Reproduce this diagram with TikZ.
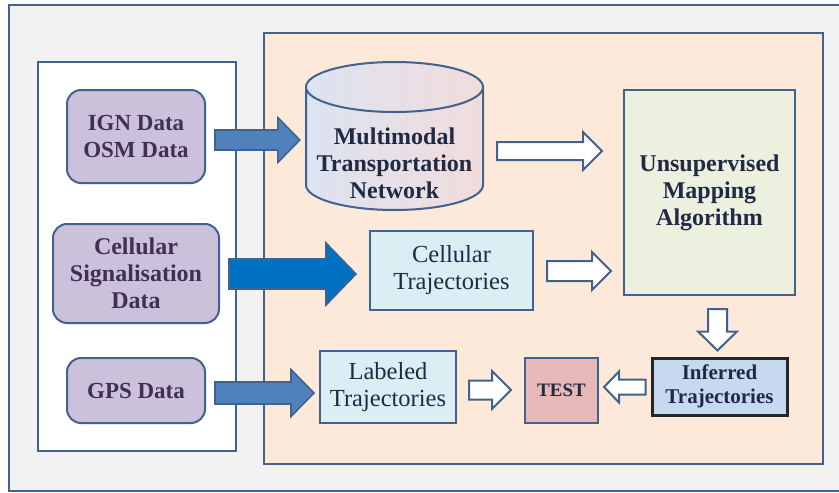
\documentclass[tikz,border=0pt]{standalone}
\usepackage{fontspec}
\setmainfont{Liberation Serif}
\usepackage{tikz}
\usetikzlibrary{calc}

\definecolor{framecol}{HTML}{41628C}
\definecolor{bggrey}{HTML}{F2F2F2}
\definecolor{peach}{HTML}{FDE9D9}
\definecolor{purplefill}{HTML}{CCC1DA}
\definecolor{purpletext}{HTML}{3F3151}
\definecolor{navytext}{HTML}{1F2A44}
\definecolor{trajfill}{HTML}{DBEEF4}
\definecolor{umafill}{HTML}{EBF1DE}
\definecolor{inffill}{HTML}{C6D9F1}
\definecolor{testfill}{HTML}{E6B9B8}
\definecolor{arrowblue}{HTML}{4F81BD}
\definecolor{cellblue}{HTML}{0070C0}
\definecolor{cylblue}{HTML}{DCE3F1}
\definecolor{cylpink}{HTML}{F2DCDC}

\tikzset{
  databox/.style={draw=framecol, line width=2pt, rounded corners=14pt, fill=purplefill,
    text=purpletext, align=center, inner sep=0pt, font=\fontsize{23}{27}\selectfont\bfseries},
  trajbox/.style={draw=framecol, line width=2pt, fill=trajfill, text=navytext,
    align=center, inner sep=0pt, font=\fontsize{24.5}{27}\selectfont},
  boldbox/.style={draw=framecol, line width=2pt, text=navytext, align=center,
    inner sep=0pt, font=\fontsize{24}{27}\selectfont\bfseries},
  blockarrow/.style n args={3}{to path={
    ($(\tikztotarget)!#3!(\tikztostart)$) coordinate (ba-head)
    ($(\tikztostart)!#1!90:(\tikztotarget)$) -- ($(ba-head)!#1!90:(\tikztotarget)$)
    -- ($(ba-head)!#2!90:(\tikztotarget)$) -- (\tikztotarget)
    -- ($(ba-head)!#2!-90:(\tikztotarget)$) -- ($(ba-head)!#1!-90:(\tikztotarget)$)
    -- ($(\tikztostart)!#1!-90:(\tikztotarget)$) -- cycle}},
  bluearrow/.style={draw=framecol, line width=1.6pt, fill=arrowblue},
  cellarrow/.style={draw=framecol, line width=1.6pt, fill=cellblue},
  hollowarrow/.style={draw=framecol, line width=2pt, fill=white},
}

\begin{document}
\begin{tikzpicture}[x=1pt,y=-1pt]
  \useasboundingbox (0,0) rectangle (839,493);

  % frames
  \draw[framecol, line width=2pt, fill=bggrey] (9,5) rectangle (860,491);
  \draw[framecol, line width=2pt, fill=white] (38,62) rectangle (236,451);
  \draw[framecol, line width=2pt, fill=peach] (264,33) rectangle (823,464);

  % data sources
  \node[databox, minimum width=138, minimum height=93] (ign) at (136,136.5) {IGN Data\\OSM Data};
  \node[databox, minimum width=166, minimum height=99, font=\fontsize{24}{27}\selectfont\bfseries] (cell) at (136,273.5) {Cellular\\Signalisation\\Data};
  \node[databox, minimum width=138, minimum height=65] (gps) at (136,390.5) {GPS Data};

  % network cylinder
  \path[left color=cylblue, right color=cylpink]
    (306,87) -- (306,185) arc[start angle=180, end angle=0, x radius=88.5, y radius=25]
    -- (483,87) arc[start angle=0, end angle=-180, x radius=88.5, y radius=25] -- cycle;
  \draw[framecol, line width=2pt]
    (306,87) -- (306,185) arc[start angle=180, end angle=0, x radius=88.5, y radius=25]
    -- (483,87) (394.5,87) ellipse[x radius=88.5, y radius=25];
  \node[text=navytext, align=center, inner sep=0pt, minimum width=177, minimum height=98,
    font=\fontsize{24}{27}\selectfont\bfseries] (cyl) at (394.5,163)
    {Multimodal\\Transportation\\Network};

  % processing
  \node[boldbox, fill=umafill, minimum width=171, minimum height=205] (uma) at (709.5,192.5)
    {Unsupervised\\Mapping\\Algorithm};
  \node[trajbox, minimum width=163, minimum height=79] (ctraj) at (451.5,270.5) {Cellular\\Trajectories};
  \node[trajbox, minimum width=136, minimum height=72] (ltraj) at (388,387) {Labeled\\Trajectories};
  \node[boldbox, fill=testfill, minimum width=73, minimum height=65,
    font=\fontsize{19}{22}\selectfont\bfseries] (test) at (561.5,390.5) {TEST};
  \node[boldbox, draw=black!85, line width=3pt, fill=inffill, minimum width=135, minimum height=57,
    font=\fontsize{21}{24}\selectfont\bfseries] (inf) at (719.5,386.5) {Inferred\\Trajectories};

  % arrows
  \draw[bluearrow, blockarrow={10pt}{22.5pt}{22pt}] ($(ign.east)+(9,3.5)$) to ($(ign.east -| cyl.west)+(-6,3.5)$);
  \draw[cellarrow, blockarrow={15pt}{31pt}{30pt}] ($(cell.east)+(9,0.5)$) to ($(ctraj.west |- cell.east)+(-13,0.5)$);
  \draw[bluearrow, blockarrow={11pt}{23.5pt}{23pt}] ($(gps.east)+(9,2.5)$) to ($(ltraj.west |- gps.east)+(-5,2.5)$);
  \draw[hollowarrow, blockarrow={9pt}{19pt}{19pt}] ($(cyl.east)+(14,-12)$) to ($(uma.west |- cyl.east)+(-21,-12)$);
  \draw[hollowarrow, blockarrow={10pt}{19pt}{19pt}] ($(ctraj.east)+(13,0.5)$) to ($(uma.west |- ctraj.east)+(-12,0.5)$);
  \draw[hollowarrow, blockarrow={9.5pt}{19.5pt}{19pt}] ($(inf.north |- uma.south)+(-2,13)$) to ($(inf.north)+(-2,-6)$);
  \draw[hollowarrow, blockarrow={7.5pt}{15.5pt}{15pt}] ($(inf.west)+(-5,0.5)$) to ($(test.east |- inf.west)+(5,0.5)$);
  \draw[hollowarrow, blockarrow={9.5pt}{19pt}{19pt}] ($(ltraj.east)+(12,3)$) to ($(test.west |- ltraj.east)+(-13,3)$);
\end{tikzpicture}
\end{document}
